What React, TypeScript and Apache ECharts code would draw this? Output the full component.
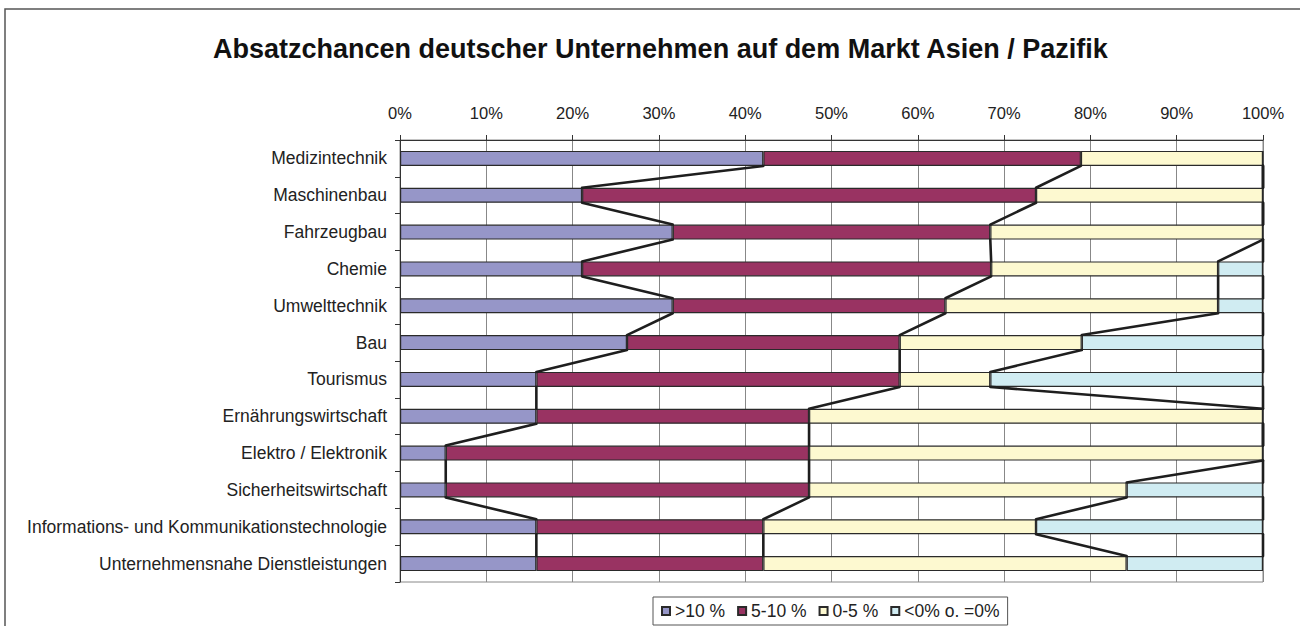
import React, { useEffect, useRef } from "react";
import * as echarts from "echarts";

const categories = [
  "Medizintechnik",
  "Maschinenbau",
  "Fahrzeugbau",
  "Chemie",
  "Umwelttechnik",
  "Bau",
  "Tourismus",
  "Ernährungswirtschaft",
  "Elektro / Elektronik",
  "Sicherheitswirtschaft",
  "Informations- und Kommunikationstechnologie",
  "Unternehmensnahe Dienstleistungen",
];

const seriesNames = [">10 %", "5-10 %", "0-5 %", "<0% o. =0%"];

const over10 = [42.1, 21.1, 31.6, 21.1, 31.6, 26.3, 15.8, 15.8, 5.3, 5.3, 15.8, 15.8];
const from5to10 = [36.8, 52.6, 36.8, 47.4, 31.6, 31.6, 42.1, 31.6, 42.1, 42.1, 26.3, 26.3];
const from0to5 = [21.1, 26.3, 31.6, 26.3, 31.6, 21.1, 10.5, 52.6, 52.6, 36.8, 31.6, 42.1];
const belowZero = [0, 0, 0, 5.2, 5.2, 21.0, 31.6, 0, 0, 15.8, 26.3, 15.8];

const xTicks = [0, 10, 20, 30, 40, 50, 60, 70, 80, 90, 100];

const colors = ["#9696C8", "#993362", "#FDF9D0", "#D0ECF2"];

const FONT = "'Liberation Sans', Arial, sans-serif";
const BAR_W = 15;

export default function App() {
  const ref = useRef<HTMLDivElement>(null);

  useEffect(() => {
    if (!ref.current) return;
    const chart = echarts.init(ref.current, undefined, { renderer: "svg" });
    const all = [over10, from5to10, from0to5, belowZero];

    const cums: number[][] = all.map((_, k) =>
      categories.map((__, i) => {
        let s = 0;
        for (let j = 0; j <= k; j++) s += all[j][i];
        return s;
      })
    );

    const lineData: number[][] = [];
    cums.forEach((arr) => {
      for (let i = 0; i < arr.length - 1; i++) {
        lineData.push([arr[i], i, arr[i + 1], i + 1]);
      }
    });

    const barSeries = all.map((d, k) => ({
      name: seriesNames[k],
      type: "bar",
      stack: "total",
      barWidth: BAR_W,
      data: d,
      itemStyle: { color: colors[k], borderColor: "#2a2a2a", borderWidth: 1.2 },
      emphasis: { disabled: true },
    }));

    chart.setOption({
      animation: false,
      backgroundColor: "#ffffff",
      title: {
        text: "Absatzchancen deutscher Unternehmen auf dem Markt Asien / Pazifik",
        left: 208,
        top: 30,
        textStyle: { fontFamily: FONT, fontSize: 27, fontWeight: "bold", color: "#111" },
      },
      graphic: [
        {
          type: "rect",
          shape: { x: 5, y: 9, width: 1400, height: 800 },
          style: { fill: "none", stroke: "#555", lineWidth: 1.5 },
          silent: true,
        },
      ],
      legend: {
        data: seriesNames,
        icon: "rect",
        left: 653,
        top: 597,
        orient: "horizontal",
        itemWidth: 8,
        itemHeight: 8,
        itemGap: 12,
        padding: [5, 8, 5, 8],
        borderColor: "#555",
        borderWidth: 1,
        textStyle: { fontFamily: FONT, fontSize: 17.5, color: "#222" },
      },
      grid: {
        left: 400,
        right: 37,
        top: 140,
        bottom: 44,
        show: true,
        borderColor: "#888",
        borderWidth: 1,
      },
      xAxis: {
        type: "value",
        position: "top",
        min: 0,
        max: 100,
        interval: 10,
        axisLine: { show: true, lineStyle: { color: "#333", width: 1 } },
        axisTick: { show: true, length: 5, lineStyle: { color: "#333" } },
        axisLabel: {
          formatter: (v: number) => (xTicks.includes(v) ? v + "%" : ""),
          fontFamily: FONT,
          fontSize: 16.5,
          color: "#222",
          margin: 19,
        },
        splitLine: { show: true, lineStyle: { color: "#888", width: 1 } },
      },
      yAxis: {
        type: "category",
        inverse: true,
        data: categories,
        axisLine: { show: true, lineStyle: { color: "#333", width: 1 } },
        axisTick: { show: true, length: 5, lineStyle: { color: "#333" } },
        axisLabel: { fontFamily: FONT, fontSize: 17.5, color: "#222", margin: 13 },
        splitLine: { show: false },
      },
      series: [
        ...barSeries,
        {
          type: "custom",
          name: "Reihenverbindung",
          coordinateSystem: "cartesian2d",
          silent: true,
          encode: { x: [0, 2], y: [1, 3] },
          renderItem: (_params: any, api: any) => {
            const p1 = api.coord([api.value(0), api.value(1)]);
            const p2 = api.coord([api.value(2), api.value(3)]);
            const half = BAR_W / 2;
            return {
              type: "line",
              shape: { x1: p1[0], y1: p1[1] + half, x2: p2[0], y2: p2[1] - half },
              style: { stroke: "#1e1e1e", lineWidth: 2.6, lineCap: "round" },
            };
          },
          data: lineData,
          z: 5,
        },
      ],
    });

    return () => chart.dispose();
  }, []);

  return (
    <div
      ref={ref}
      style={{ position: "fixed", left: 0, top: 0, width: 1300, height: 626 }}
    />
  );
}
